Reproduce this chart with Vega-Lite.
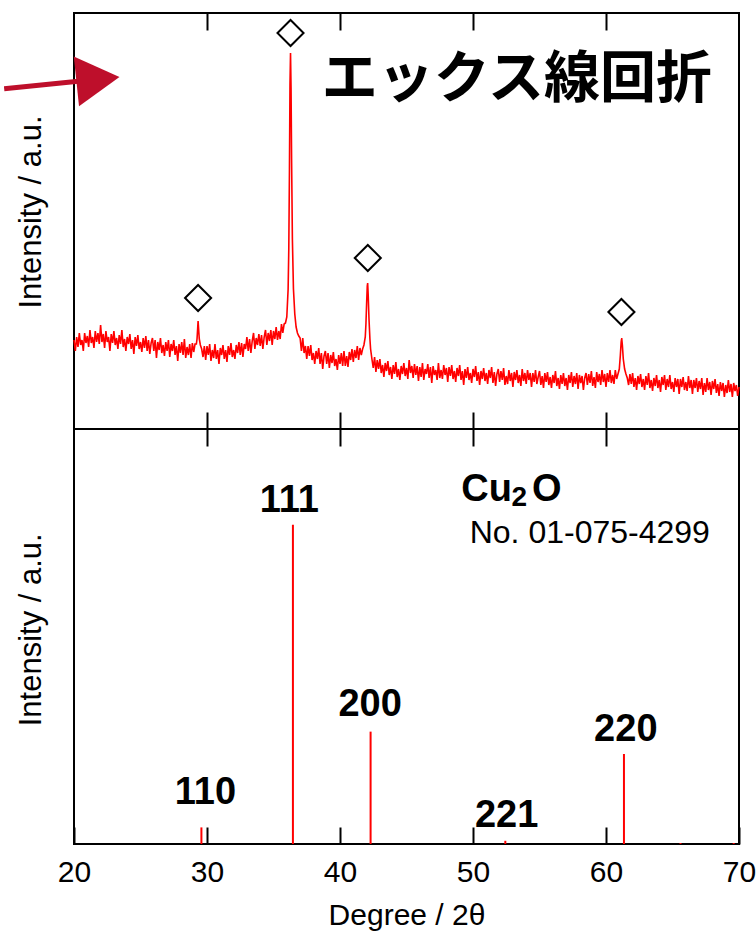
{
  "$schema": "https://vega.github.io/schema/vega-lite/v6.json",
  "padding": {"left": 0, "top": 11, "right": 5, "bottom": 5},
  "background": "white",
  "spacing": 0,
  "bounds": "flush",
  "config": {
    "view": {"stroke": "black", "strokeWidth": 2},
    "font": "Liberation Sans",
    "axis": {"grid": false, "domain": false, "tickColor": "black", "tickWidth": 2, "labelColor": "black", "titleColor": "black", "labelFont": "Liberation Sans", "titleFont": "Liberation Sans", "titleFontWeight": "normal"}
  },
  "datasets": {
    "xrd": [
      {"x":20.0,"y":89},{"x":20.1,"y":78},{"x":20.2,"y":92},{"x":20.3,"y":82},{"x":20.4,"y":96},{"x":20.5,"y":84},{"x":20.6,"y":89},{"x":20.7,"y":78},{"x":20.8,"y":96},{"x":20.9,"y":86},
      {"x":21.0,"y":93},{"x":21.1,"y":82},{"x":21.2,"y":99},{"x":21.3,"y":86},{"x":21.4,"y":92},{"x":21.5,"y":81},{"x":21.6,"y":98},{"x":21.7,"y":87},{"x":21.8,"y":96},{"x":21.9,"y":85},
      {"x":22.0,"y":104},{"x":22.1,"y":87},{"x":22.2,"y":95},{"x":22.3,"y":81},{"x":22.4,"y":98},{"x":22.5,"y":87},{"x":22.6,"y":92},{"x":22.7,"y":78},{"x":22.8,"y":95},{"x":22.9,"y":86},
      {"x":23.0,"y":98},{"x":23.1,"y":84},{"x":23.2,"y":91},{"x":23.3,"y":80},{"x":23.4,"y":94},{"x":23.5,"y":85},{"x":23.6,"y":99},{"x":23.7,"y":82},{"x":23.8,"y":90},{"x":23.9,"y":78},
      {"x":24.0,"y":92},{"x":24.1,"y":85},{"x":24.2,"y":95},{"x":24.3,"y":80},{"x":24.4,"y":89},{"x":24.5,"y":75},{"x":24.6,"y":92},{"x":24.7,"y":83},{"x":24.8,"y":94},{"x":24.9,"y":80},
      {"x":25.0,"y":87},{"x":25.1,"y":77},{"x":25.2,"y":91},{"x":25.3,"y":81},{"x":25.4,"y":93},{"x":25.5,"y":78},{"x":25.6,"y":89},{"x":25.7,"y":75},{"x":25.8,"y":86},{"x":25.9,"y":91},
      {"x":26.0,"y":78},{"x":26.1,"y":89},{"x":26.2,"y":71},{"x":26.3,"y":87},{"x":26.4,"y":79},{"x":26.5,"y":91},{"x":26.6,"y":76},{"x":26.7,"y":84},{"x":26.8,"y":73},{"x":26.9,"y":87},
      {"x":27.0,"y":78},{"x":27.1,"y":89},{"x":27.2,"y":72},{"x":27.3,"y":85},{"x":27.4,"y":78},{"x":27.5,"y":89},{"x":27.6,"y":74},{"x":27.7,"y":83},{"x":27.8,"y":68},{"x":27.9,"y":85},
      {"x":28.0,"y":76},{"x":28.1,"y":87},{"x":28.2,"y":74},{"x":28.3,"y":90},{"x":28.4,"y":71},{"x":28.5,"y":82},{"x":28.6,"y":74},{"x":28.7,"y":85},{"x":28.8,"y":71},{"x":28.9,"y":86},
      {"x":29.0,"y":77},{"x":29.1,"y":85},{"x":29.2,"y":85},{"x":29.25,"y":90},{"x":29.3,"y":101},{"x":29.33,"y":108},{"x":29.37,"y":100},{"x":29.42,"y":90},{"x":29.5,"y":84},{"x":29.6,"y":80},{"x":29.7,"y":72},{"x":29.8,"y":83},{"x":29.9,"y":69},
      {"x":30.0,"y":83},{"x":30.1,"y":74},{"x":30.2,"y":85},{"x":30.3,"y":68},{"x":30.4,"y":79},{"x":30.5,"y":71},{"x":30.6,"y":85},{"x":30.7,"y":70},{"x":30.8,"y":79},{"x":30.9,"y":65},
      {"x":31.0,"y":81},{"x":31.1,"y":74},{"x":31.2,"y":84},{"x":31.3,"y":70},{"x":31.4,"y":79},{"x":31.5,"y":67},{"x":31.6,"y":83},{"x":31.7,"y":74},{"x":31.8,"y":86},{"x":31.9,"y":72},
      {"x":32.0,"y":79},{"x":32.1,"y":70},{"x":32.2,"y":84},{"x":32.3,"y":76},{"x":32.4,"y":87},{"x":32.5,"y":74},{"x":32.6,"y":86},{"x":32.7,"y":72},{"x":32.8,"y":85},{"x":32.9,"y":80},
      {"x":33.0,"y":92},{"x":33.1,"y":78},{"x":33.2,"y":90},{"x":33.3,"y":76},{"x":33.4,"y":88},{"x":33.5,"y":96},{"x":33.6,"y":80},{"x":33.7,"y":91},{"x":33.8,"y":84},{"x":33.9,"y":95},
      {"x":34.0,"y":83},{"x":34.1,"y":94},{"x":34.2,"y":80},{"x":34.3,"y":92},{"x":34.4,"y":99},{"x":34.5,"y":84},{"x":34.6,"y":96},{"x":34.7,"y":88},{"x":34.8,"y":99},{"x":34.9,"y":84},
      {"x":35.0,"y":98},{"x":35.1,"y":90},{"x":35.2,"y":102},{"x":35.3,"y":89},{"x":35.4,"y":98},{"x":35.5,"y":90},{"x":35.6,"y":105},{"x":35.7,"y":96},{"x":35.8,"y":105},{"x":35.9,"y":106},
      {"x":36.0,"y":112},{"x":36.1,"y":140},{"x":36.15,"y":180},{"x":36.2,"y":260},{"x":36.24,"y":345},{"x":36.28,"y":376},{"x":36.32,"y":340},{"x":36.36,"y":270},{"x":36.42,"y":190},{"x":36.5,"y":140},{"x":36.6,"y":115},{"x":36.7,"y":102},{"x":36.8,"y":96},{"x":36.9,"y":93},
      {"x":37.0,"y":91},{"x":37.1,"y":78},{"x":37.2,"y":91},{"x":37.3,"y":76},{"x":37.4,"y":83},{"x":37.5,"y":70},{"x":37.6,"y":83},{"x":37.7,"y":73},{"x":37.8,"y":84},{"x":37.9,"y":69},
      {"x":38.0,"y":76},{"x":38.1,"y":65},{"x":38.2,"y":78},{"x":38.3,"y":70},{"x":38.4,"y":81},{"x":38.5,"y":65},{"x":38.6,"y":76},{"x":38.7,"y":60},{"x":38.8,"y":73},{"x":38.9,"y":78},
      {"x":39.0,"y":65},{"x":39.1,"y":76},{"x":39.2,"y":61},{"x":39.3,"y":74},{"x":39.4,"y":66},{"x":39.5,"y":77},{"x":39.6,"y":63},{"x":39.7,"y":70},{"x":39.8,"y":59},{"x":39.9,"y":74},
      {"x":40.0,"y":65},{"x":40.1,"y":76},{"x":40.2,"y":63},{"x":40.3,"y":78},{"x":40.4,"y":63},{"x":40.5,"y":73},{"x":40.6,"y":62},{"x":40.7,"y":77},{"x":40.8,"y":69},{"x":40.9,"y":80},
      {"x":41.0,"y":67},{"x":41.1,"y":79},{"x":41.2,"y":71},{"x":41.3,"y":83},{"x":41.4,"y":69},{"x":41.5,"y":81},{"x":41.6,"y":74},{"x":41.7,"y":80},{"x":41.8,"y":84},{"x":41.9,"y":92},{"x":41.95,"y":105},
      {"x":42.0,"y":125},{"x":42.05,"y":143},{"x":42.08,"y":146},{"x":42.12,"y":134},{"x":42.18,"y":110},{"x":42.25,"y":90},{"x":42.3,"y":80},{"x":42.4,"y":70},{"x":42.5,"y":61},{"x":42.6,"y":72},{"x":42.7,"y":57},{"x":42.8,"y":69},{"x":42.9,"y":60},
      {"x":43.0,"y":70},{"x":43.1,"y":56},{"x":43.2,"y":64},{"x":43.3,"y":52},{"x":43.4,"y":66},{"x":43.5,"y":58},{"x":43.6,"y":68},{"x":43.7,"y":54},{"x":43.8,"y":62},{"x":43.9,"y":50},
      {"x":44.0,"y":64},{"x":44.1,"y":55},{"x":44.2,"y":67},{"x":44.3,"y":52},{"x":44.4,"y":60},{"x":44.5,"y":49},{"x":44.6,"y":63},{"x":44.7,"y":55},{"x":44.8,"y":66},{"x":44.9,"y":53},
      {"x":45.0,"y":61},{"x":45.1,"y":50},{"x":45.2,"y":69},{"x":45.3,"y":56},{"x":45.4,"y":63},{"x":45.5,"y":51},{"x":45.6,"y":65},{"x":45.7,"y":54},{"x":45.8,"y":63},{"x":45.9,"y":48},
      {"x":46.0,"y":62},{"x":46.1,"y":52},{"x":46.2,"y":66},{"x":46.3,"y":49},{"x":46.4,"y":60},{"x":46.5,"y":55},{"x":46.6,"y":65},{"x":46.7,"y":51},{"x":46.8,"y":62},{"x":46.9,"y":46},
      {"x":47.0,"y":63},{"x":47.1,"y":54},{"x":47.2,"y":59},{"x":47.3,"y":49},{"x":47.4,"y":66},{"x":47.5,"y":51},{"x":47.6,"y":59},{"x":47.7,"y":50},{"x":47.8,"y":64},{"x":47.9,"y":54},
      {"x":48.0,"y":61},{"x":48.1,"y":47},{"x":48.2,"y":62},{"x":48.3,"y":53},{"x":48.4,"y":64},{"x":48.5,"y":50},{"x":48.6,"y":58},{"x":48.7,"y":47},{"x":48.8,"y":61},{"x":48.9,"y":53},
      {"x":49.0,"y":64},{"x":49.1,"y":49},{"x":49.2,"y":58},{"x":49.3,"y":44},{"x":49.4,"y":60},{"x":49.5,"y":51},{"x":49.6,"y":62},{"x":49.7,"y":49},{"x":49.8,"y":56},{"x":49.9,"y":46},
      {"x":50.0,"y":60},{"x":50.1,"y":52},{"x":50.2,"y":63},{"x":50.3,"y":48},{"x":50.4,"y":57},{"x":50.5,"y":44},{"x":50.6,"y":58},{"x":50.7,"y":50},{"x":50.8,"y":61},{"x":50.9,"y":48},
      {"x":51.0,"y":56},{"x":51.1,"y":45},{"x":51.2,"y":59},{"x":51.3,"y":51},{"x":51.4,"y":62},{"x":51.5,"y":46},{"x":51.6,"y":57},{"x":51.7,"y":43},{"x":51.8,"y":55},{"x":51.9,"y":60},
      {"x":52.0,"y":47},{"x":52.1,"y":58},{"x":52.2,"y":49},{"x":52.3,"y":61},{"x":52.4,"y":44},{"x":52.5,"y":53},{"x":52.6,"y":45},{"x":52.7,"y":59},{"x":52.8,"y":48},{"x":52.9,"y":56},
      {"x":53.0,"y":42},{"x":53.1,"y":57},{"x":53.2,"y":49},{"x":53.3,"y":59},{"x":53.4,"y":46},{"x":53.5,"y":54},{"x":53.6,"y":43},{"x":53.7,"y":60},{"x":53.8,"y":48},{"x":53.9,"y":56},
      {"x":54.0,"y":45},{"x":54.1,"y":59},{"x":54.2,"y":49},{"x":54.3,"y":56},{"x":54.4,"y":42},{"x":54.5,"y":56},{"x":54.6,"y":47},{"x":54.7,"y":59},{"x":54.8,"y":45},{"x":54.9,"y":52},
      {"x":55.0,"y":58},{"x":55.1,"y":44},{"x":55.2,"y":53},{"x":55.3,"y":41},{"x":55.4,"y":56},{"x":55.5,"y":47},{"x":55.6,"y":57},{"x":55.7,"y":44},{"x":55.8,"y":52},{"x":55.9,"y":41},
      {"x":56.0,"y":54},{"x":56.1,"y":46},{"x":56.2,"y":58},{"x":56.3,"y":43},{"x":56.4,"y":51},{"x":56.5,"y":40},{"x":56.6,"y":54},{"x":56.7,"y":45},{"x":56.8,"y":56},{"x":56.9,"y":43},
      {"x":57.0,"y":51},{"x":57.1,"y":39},{"x":57.2,"y":54},{"x":57.3,"y":46},{"x":57.4,"y":57},{"x":57.5,"y":42},{"x":57.6,"y":53},{"x":57.7,"y":45},{"x":57.8,"y":56},{"x":57.9,"y":40},
      {"x":58.0,"y":54},{"x":58.1,"y":46},{"x":58.2,"y":53},{"x":58.3,"y":39},{"x":58.4,"y":51},{"x":58.5,"y":56},{"x":58.6,"y":44},{"x":58.7,"y":55},{"x":58.8,"y":46},{"x":58.9,"y":58},
      {"x":59.0,"y":43},{"x":59.1,"y":52},{"x":59.2,"y":41},{"x":59.3,"y":57},{"x":59.4,"y":47},{"x":59.5,"y":55},{"x":59.6,"y":44},{"x":59.7,"y":59},{"x":59.8,"y":47},{"x":59.9,"y":55},
      {"x":60.0,"y":42},{"x":60.1,"y":56},{"x":60.2,"y":47},{"x":60.3,"y":59},{"x":60.4,"y":46},{"x":60.5,"y":54},{"x":60.6,"y":45},{"x":60.7,"y":59},{"x":60.8,"y":50},{"x":60.9,"y":55},
      {"x":61.0,"y":60},{"x":61.08,"y":74},{"x":61.14,"y":87},{"x":61.18,"y":91},{"x":61.23,"y":84},{"x":61.3,"y":70},{"x":61.4,"y":60},{"x":61.5,"y":55},{"x":61.6,"y":51},{"x":61.7,"y":44},{"x":61.8,"y":55},{"x":61.9,"y":45},
      {"x":62.0,"y":56},{"x":62.1,"y":42},{"x":62.2,"y":51},{"x":62.3,"y":39},{"x":62.4,"y":53},{"x":62.5,"y":45},{"x":62.6,"y":55},{"x":62.7,"y":42},{"x":62.8,"y":50},{"x":62.9,"y":39},
      {"x":63.0,"y":53},{"x":63.1,"y":44},{"x":63.2,"y":56},{"x":63.3,"y":41},{"x":63.4,"y":49},{"x":63.5,"y":38},{"x":63.6,"y":51},{"x":63.7,"y":43},{"x":63.8,"y":54},{"x":63.9,"y":41},
      {"x":64.0,"y":49},{"x":64.1,"y":37},{"x":64.2,"y":52},{"x":64.3,"y":44},{"x":64.4,"y":54},{"x":64.5,"y":39},{"x":64.6,"y":50},{"x":64.7,"y":42},{"x":64.8,"y":54},{"x":64.9,"y":40},
      {"x":65.0,"y":47},{"x":65.1,"y":37},{"x":65.2,"y":51},{"x":65.3,"y":42},{"x":65.4,"y":50},{"x":65.5,"y":35},{"x":65.6,"y":50},{"x":65.7,"y":42},{"x":65.8,"y":52},{"x":65.9,"y":39},
      {"x":66.0,"y":47},{"x":66.1,"y":38},{"x":66.2,"y":53},{"x":66.3,"y":41},{"x":66.4,"y":49},{"x":66.5,"y":35},{"x":66.6,"y":49},{"x":66.7,"y":41},{"x":66.8,"y":51},{"x":66.9,"y":37},
      {"x":67.0,"y":48},{"x":67.1,"y":40},{"x":67.2,"y":51},{"x":67.3,"y":34},{"x":67.4,"y":46},{"x":67.5,"y":37},{"x":67.6,"y":51},{"x":67.7,"y":39},{"x":67.8,"y":47},{"x":67.9,"y":34},
      {"x":68.0,"y":48},{"x":68.1,"y":40},{"x":68.2,"y":50},{"x":68.3,"y":36},{"x":68.4,"y":45},{"x":68.5,"y":33},{"x":68.6,"y":47},{"x":68.7,"y":38},{"x":68.8,"y":46},{"x":68.9,"y":32},
      {"x":69.0,"y":44},{"x":69.1,"y":36},{"x":69.2,"y":49},{"x":69.3,"y":37},{"x":69.4,"y":45},{"x":69.5,"y":32},{"x":69.6,"y":46},{"x":69.7,"y":38},{"x":69.8,"y":44},{"x":69.9,"y":33},{"x":70.0,"y":42}
    ],
    "markers": [
      {"x":29.33,"y":131},{"x":36.28,"y":396},{"x":42.09,"y":171},{"x":61.16,"y":117}
    ],
    "sticks": [
      {"x":29.58,"y":5.2},{"x":36.46,"y":100},{"x":42.3,"y":35.2},{"x":52.43,"y":1.0},{"x":61.35,"y":28.2},{"x":65.6,"y":0.3},{"x":69.6,"y":0.3}
    ],
    "hkl": [
      {"x":29.88,"y":12.5,"label":"110"},{"x":36.19,"y":103.9,"label":"111"},{"x":42.27,"y":40.2,"label":"200"},{"x":52.53,"y":5.2,"label":"221"},{"x":61.49,"y":32.4,"label":"220"}
    ]
  },
  "vconcat": [
    {
      "width": 665,
      "height": 416,
      "resolve": {"axis": {"x": "independent"}},
      "layer": [
        {
          "data": {"name": "xrd"},
          "mark": {"type": "line", "color": "#ff0000", "strokeWidth": 1.6},
          "encoding": {
            "x": {"field": "x", "type": "quantitative", "scale": {"domain": [20, 70], "nice": false, "zero": false},
                  "axis": {"orient": "bottom", "values": [30, 40, 50, 60], "tickSize": -17, "labels": false, "title": null}},
            "y": {"field": "y", "type": "quantitative", "scale": {"domain": [0, 416], "nice": false}, "axis": null}
          }
        },
        {
          "data": {"name": "markers"},
          "mark": {"type": "point", "shape": "diamond", "filled": false, "stroke": "black", "strokeWidth": 2, "size": 680, "opacity": 1},
          "encoding": {
            "x": {"field": "x", "type": "quantitative",
                  "axis": {"orient": "top", "values": [30, 40, 50, 60], "tickSize": -17, "labels": false, "title": null}},
            "y": {"field": "y", "type": "quantitative", "axis": null}
          }
        },
        {
          "data": {"values": [{"x": 53.3, "y": 332, "label": "エックス線回折"}]},
          "mark": {"type": "text", "font": "Noto Sans CJK JP", "fontSize": 56, "fontWeight": "bold", "align": "center", "baseline": "alphabetic", "color": "black"},
          "encoding": {
            "x": {"field": "x", "type": "quantitative", "axis": null},
            "y": {"field": "y", "type": "quantitative", "axis": null},
            "text": {"field": "label"}
          }
        },
        {
          "data": {"values": [{"x": 16.82, "y": 217, "label": "Intensity / a.u."}]},
          "mark": {"type": "text", "font": "Liberation Sans", "fontSize": 31, "angle": 270, "align": "center", "baseline": "middle", "color": "black"},
          "encoding": {
            "x": {"field": "x", "type": "quantitative", "axis": null},
            "y": {"field": "y", "type": "quantitative", "axis": null},
            "text": {"field": "label"}
          }
        },
        {
          "data": {"values": [{"x": 14.75, "y": 340.3, "x2": 21.62, "y2": 349.6}]},
          "mark": {"type": "rule", "color": "#BE0F2B", "strokeWidth": 5},
          "encoding": {
            "x": {"field": "x", "type": "quantitative", "axis": null},
            "y": {"field": "y", "type": "quantitative", "axis": null},
            "x2": {"field": "x2"},
            "y2": {"field": "y2"}
          }
        },
        {
          "data": {"values": [{"x": 21.8, "y": 349.8}]},
          "mark": {"type": "point", "shape": "triangle-right", "filled": true, "color": "#BE0F2B", "size": 2500, "angle": -6, "opacity": 1},
          "encoding": {
            "x": {"field": "x", "type": "quantitative", "axis": null},
            "y": {"field": "y", "type": "quantitative", "axis": null}
          }
        }
      ]
    },
    {
      "width": 665,
      "height": 415,
      "resolve": {"axis": {"x": "independent"}},
      "layer": [
        {
          "data": {"name": "sticks"},
          "mark": {"type": "rule", "color": "#ff0000", "strokeWidth": 2},
          "encoding": {
            "x": {"field": "x", "type": "quantitative", "scale": {"domain": [20, 70], "nice": false, "zero": false},
                  "axis": {"orient": "bottom", "values": [20, 30, 40, 50, 60, 70], "tickSize": -17, "labelFontSize": 30, "labelPadding": 30, "labelFlush": false, "labelOverlap": false, "title": "Degree / 2θ", "titleFontSize": 30, "titlePadding": 13}},
            "y": {"field": "y", "type": "quantitative", "scale": {"domain": [0, 130], "nice": false}, "axis": null},
            "y2": {"datum": 0}
          }
        },
        {
          "data": {"name": "hkl"},
          "mark": {"type": "text", "font": "Liberation Sans", "fontSize": 38, "fontWeight": "bold", "align": "center", "baseline": "alphabetic", "color": "black"},
          "encoding": {
            "x": {"field": "x", "type": "quantitative",
                  "axis": {"orient": "top", "values": [30, 40, 50, 60], "tickSize": -17, "labels": false, "title": null}},
            "y": {"field": "y", "type": "quantitative", "axis": null},
            "text": {"field": "label"}
          }
        },
        {
          "data": {"values": [{"x": 16.82, "y": 67.1, "label": "Intensity / a.u."}]},
          "mark": {"type": "text", "font": "Liberation Sans", "fontSize": 31, "angle": 270, "align": "center", "baseline": "middle", "color": "black"},
          "encoding": {
            "x": {"field": "x", "type": "quantitative", "axis": null},
            "y": {"field": "y", "type": "quantitative", "axis": null},
            "text": {"field": "label"}
          }
        },
        {
          "data": {"values": [{"x": 49.12, "y": 107.5, "label": "Cu"}, {"x": 54.43, "y": 107.5, "label": "O"}]},
          "mark": {"type": "text", "font": "Liberation Sans", "fontSize": 38, "fontWeight": "bold", "align": "left", "baseline": "alphabetic", "color": "black"},
          "encoding": {
            "x": {"field": "x", "type": "quantitative", "axis": null},
            "y": {"field": "y", "type": "quantitative", "axis": null},
            "text": {"field": "label"}
          }
        },
        {
          "data": {"values": [{"x": 52.9, "y": 106.0, "label": "2"}]},
          "mark": {"type": "text", "font": "Liberation Sans", "fontSize": 28, "fontWeight": "bold", "align": "left", "baseline": "alphabetic", "color": "black"},
          "encoding": {
            "x": {"field": "x", "type": "quantitative", "axis": null},
            "y": {"field": "y", "type": "quantitative", "axis": null},
            "text": {"field": "label"}
          }
        },
        {
          "data": {"values": [{"x": 58.78, "y": 94.2, "label": "No. 01-075-4299"}]},
          "mark": {"type": "text", "font": "Liberation Sans", "fontSize": 32, "align": "center", "baseline": "alphabetic", "color": "black"},
          "encoding": {
            "x": {"field": "x", "type": "quantitative", "axis": null},
            "y": {"field": "y", "type": "quantitative", "axis": null},
            "text": {"field": "label"}
          }
        }
      ]
    }
  ]
}
